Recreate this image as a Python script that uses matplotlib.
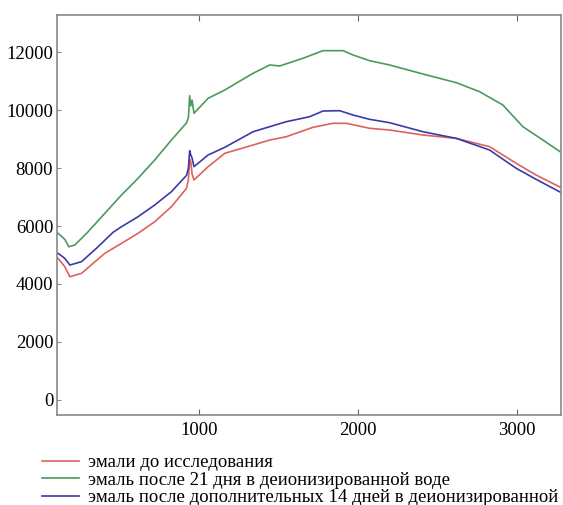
import matplotlib.pyplot as plt
import numpy as np

plt.rcParams['font.family'] = ['Liberation Serif', 'DejaVu Serif']

# wavenumber / intensity
x_before = [115, 157, 189, 262, 409, 514, 618, 723, 828, 923, 935, 943, 950, 958, 970, 1059, 1164,
            1342, 1447, 1551, 1719, 1845, 1929, 2075, 2201, 2411, 2621, 2830, 2998, 3123, 3289]
y_before = [4884, 4595, 4249, 4366, 5057, 5402, 5748, 6149, 6667, 7300, 7600, 8300, 8220, 7800, 7589, 8049, 8511,
            8798, 8970, 9085, 9409, 9548, 9548, 9375, 9316, 9143, 9027, 8740, 8166, 7762, 7302]

x_21d = [115, 157, 182, 220, 304, 409, 514, 618, 723, 828, 923, 935, 943, 950, 958, 970, 1059, 1164,
         1342, 1447, 1509, 1656, 1782, 1908, 1971, 2075, 2201, 2411, 2621, 2767, 2914, 3040, 3166, 3289]
y_21d = [5748, 5540, 5285, 5344, 5803, 6439, 7071, 7648, 8280, 8970, 9560, 9750, 10500, 10150, 10350, 9893, 10411, 10698,
         11275, 11562, 11527, 11793, 12056, 12056, 11907, 11710, 11562, 11250, 10950, 10640, 10180, 9430, 8970, 8511]

x_14d = [115, 157, 189, 262, 360, 460, 514, 618, 723, 828, 923, 935, 943, 950, 958, 970, 1059, 1164,
         1342, 1551, 1698, 1782, 1887, 1971, 2075, 2201, 2411, 2621, 2830, 2998, 3123, 3289]
y_14d = [5057, 4884, 4653, 4768, 5250, 5780, 5976, 6321, 6726, 7185, 7750, 8000, 8601, 8450, 8350, 8049, 8453, 8718,
         9257, 9603, 9775, 9972, 9983, 9834, 9686, 9568, 9257, 9027, 8625, 7993, 7613, 7130]

labels = ['эмали до исследования',
          'эмаль после 21 дня в деионизированной воде',
          'эмаль после дополнительных 14 дней в деионизированной']

fig = plt.figure(figsize=(5.63, 5.05), dpi=100)
ax = fig.add_axes([0.1018, 0.178, 0.8947, 0.793])

ax.plot(x_before, y_before, color='#e0605c', lw=1.2, label=labels[0])
ax.plot(x_21d, y_21d, color='#4a9a5c', lw=1.2, label=labels[1])
ax.plot(x_14d, y_14d, color='#3a3aa8', lw=1.2, label=labels[2])

ax.set_xlim(110, 3280)
ax.set_ylim(-530, 13300)
ax.set_xticks([1000, 2000, 3000])
ax.set_yticks([0, 2000, 4000, 6000, 8000, 10000, 12000])

for s in ax.spines.values():
    s.set_color('#888888')
    s.set_linewidth(1.2)
ax.tick_params(axis='x', direction='in', top=True, length=4, color='#666666',
               labelsize=13.5, pad=5)
ax.tick_params(axis='y', direction='in', length=3, color='#888888',
               labelsize=13.5, pad=3)

fig.legend(loc='upper left', bbox_to_anchor=(41.7 / 563, 1 - 454 / 505),
           frameon=False, fontsize=13.5, handlelength=2.0, handletextpad=0.45,
           labelspacing=0.02, borderpad=0, borderaxespad=0)

fig.savefig('out.png', dpi=100)
